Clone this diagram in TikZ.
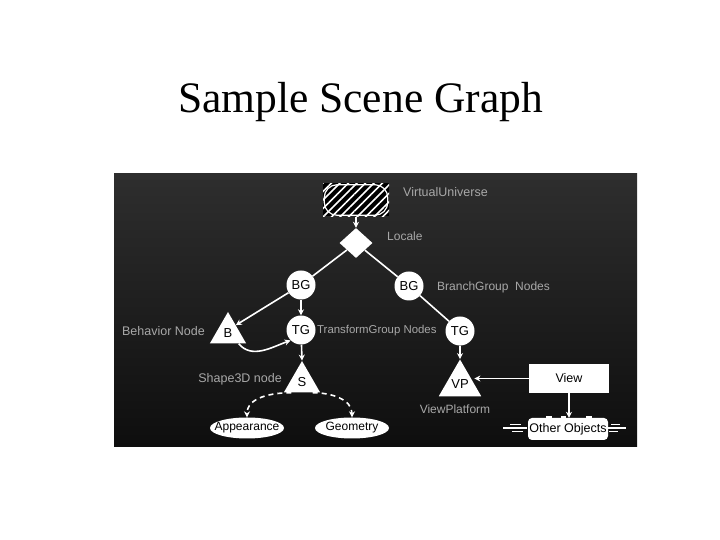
\documentclass[tikz,border=0pt]{standalone}
\usepackage{fontspec}
\setmainfont{Liberation Serif}
\setsansfont{Liberation Sans}
\usetikzlibrary{shapes.geometric,arrows.meta,patterns.meta}
\definecolor{labelgray}{HTML}{A8A8A8}

\begin{document}
\begin{tikzpicture}[
    x=1pt, y=1pt,
    group node/.style={circle, fill=white, minimum size=29pt, inner sep=0pt, font=\sffamily\fontsize{13}{13}\selectfont},
    leaf node/.style={regular polygon, regular polygon sides=3, fill=white, minimum size=42pt, inner sep=0pt, font=\sffamily\fontsize{13}{13}\selectfont},
    comp node/.style={ellipse, fill=white, minimum width=74pt, minimum height=21pt, inner xsep=-7.5pt, inner ysep=0pt, font=\sffamily\fontsize{12}{12}\selectfont},
    side label/.style={text=labelgray, inner sep=0pt, font=\sffamily\fontsize{12}{12}\selectfont},
    link/.style={draw=white, line width=1.6pt},
    ref link/.style={link, -{Stealth[length=6pt,width=6pt]}},
    dash link/.style={ref link, dash pattern=on 5pt off 4pt}
]
\useasboundingbox (0,0) rectangle (720,540);

% titel en achtergrond
\node[font=\fontsize{43.5}{43.5}\selectfont, anchor=base] (title) at (360.5,427) {Sample Scene Graph};
\shade[top color={rgb,255:red,46;green,46;blue,46}, bottom color={rgb,255:red,14;green,14;blue,14}] (114,93) rectangle (637,366);

% universum en locale
\node[minimum width=66pt, minimum height=33pt, inner sep=0pt,
      preaction={fill=black}, pattern={Lines[angle=45,distance=6pt,line width=1.6pt]}, pattern color=white] (vu) at (356,340) {};
\draw[white, line width=1.2pt, rounded corners=13pt] ([xshift=2pt,yshift=-2pt]vu.north west) rectangle ([xshift=-2pt,yshift=2pt]vu.south east);
\node[diamond, fill=white, minimum width=33pt, minimum height=30pt, inner sep=0pt] (loc) at (356,297) {};

% groepen
\node[group node] (bg1) at (301,255) {BG};
\node[group node] (bg2) at (409,254) {BG};
\node[group node] (tg1) at (301,210) {TG};
\node[group node] (tg2) at (460,209) {TG};

% bladeren
\node[leaf node] (beh) at (228,207) {B};
\node[leaf node] (shp) at (302,158) {S};
\node[leaf node] (vp)  at (460,156) {VP};

\node[comp node] (app) at (247,112) {Appearance};
\node[comp node] (geo) at (352,112) {Geometry};

\node[rectangle, fill=white, minimum width=80pt, minimum height=29pt, inner sep=0pt, font=\sffamily\fontsize{12.5}{12.5}\selectfont] (view) at (569,161.5) {View};
\node[rectangle, fill=white, rounded corners=4pt, minimum width=80pt, minimum height=22pt, inner sep=0pt, font=\sffamily\fontsize{12.5}{12.5}\selectfont] (other) at (568,111) {Other Objects};
\foreach \a/\b/\h in {503/527/112, 510/521/115.5, 512/523/108.5, 608/626/112, 611/620/115.5, 609/618/108.5, 546/552/123, 561/566/123, 586/592/123}
  \draw[white, line width=1.2pt] (\a,\h) -- (\b,\h);

% verbindingen
\draw[ref link] (vu) -- (loc);
\draw[link] (loc) -- (bg1);
\draw[link] (loc) -- (bg2);
\draw[ref link] (bg1) -- (beh.north east);
\draw[ref link] (bg1) -- (tg1);
\draw[link] (bg2) -- (tg2);
\draw[ref link] (beh.south east) to[out=-50, in=200] (tg1.south west);
\draw[ref link] (tg1) -- (shp.north);
\draw[ref link] (tg2) -- (vp.north);
\draw[ref link] (view.west) -- (vp.east |- view.west);
\draw[ref link] (view.south) -- (view.south |- other.north);
\draw[dash link] (shp.south west) to[out=180, in=90] (app.north);
\draw[dash link] (shp.south east) to[out=0, in=90] (geo.north);

% labels
\node[side label, anchor=west, font=\sffamily\fontsize{12.5}{12.5}\selectfont] (lvu) at (403,348) {VirtualUniverse};
\node[side label, anchor=west] (lloc) at (387,304) {Locale};
\node[side label, anchor=west] (lbg)  at (437,252.5) {BranchGroup\ \ Nodes};
\node[side label, anchor=east, font=\sffamily\fontsize{12.5}{12.5}\selectfont] (lbeh) at (205,209) {Behavior Node};
\node[side label, anchor=west, font=\sffamily\fontsize{11.4}{11.4}\selectfont] (ltg) at (317,209) {TransformGroup Nodes};
\node[side label, anchor=east, font=\sffamily\fontsize{12.5}{12.5}\selectfont] (lshp) at (282,161) {Shape3D node};
\node[side label] (lvp) at (455,131) {ViewPlatform};

\end{tikzpicture}
\end{document}
